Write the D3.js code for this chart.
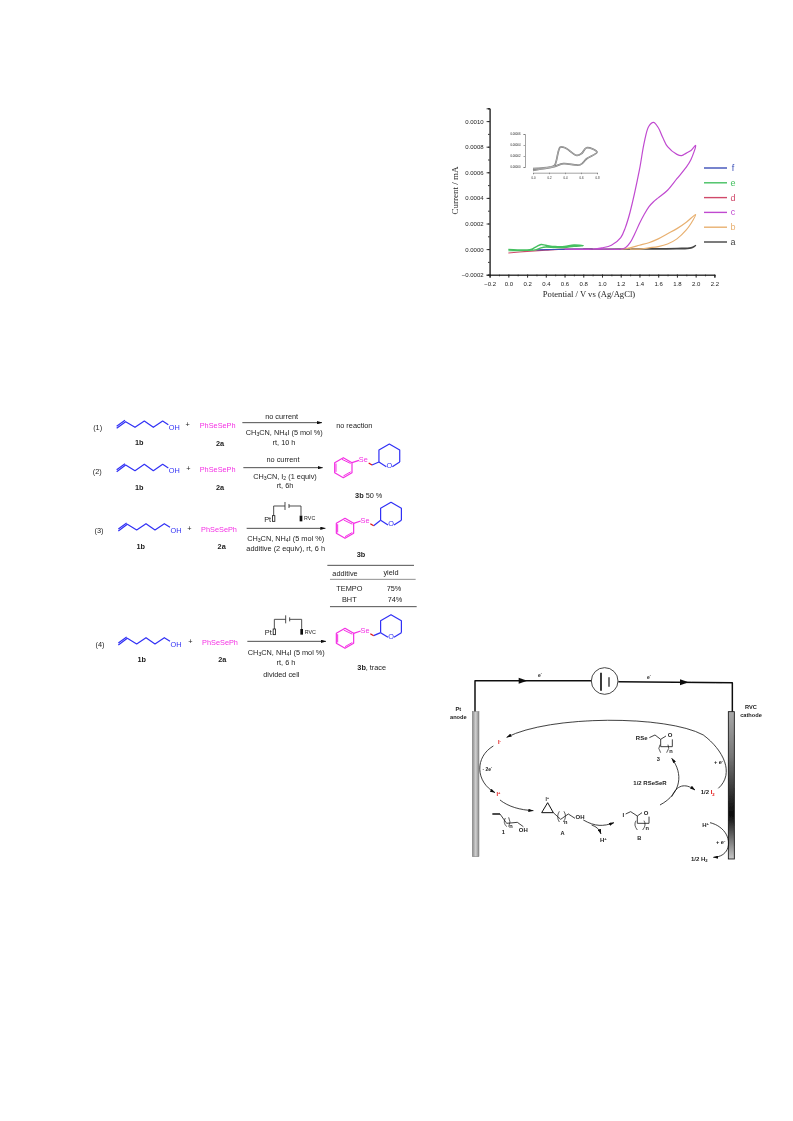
<!DOCTYPE html>
<html>
<head>
<meta charset="utf-8">
<script src="https://cdn.jsdelivr.net/npm/d3@7"></script>
<style>
  html, body { margin: 0; padding: 0; background: #fff; }
  svg { display: block; }
  text { font-family: "Liberation Sans", Arial, sans-serif; fill: #222; }
</style>
</head>
<body>
<svg id="page" width="793" height="1121"></svg>
<script>
// CV curves (potential in V, current in mA)
const aPotential = [0.8, 1.0, 1.4, 1.8, 1.95, 2.0, 1.95, 1.8, 1.4, 1.0, 0.8]
const aCurrent = [0, 0, 0.000002, 0.000006, 0.000012, 0.000028, 0.000008, 0.000002, 0, 0, 0]

const bPotential = [1.2, 1.3, 1.4, 1.5, 1.6, 1.7, 1.8, 1.9, 2.0, 1.95, 1.9, 1.8, 1.7, 1.6, 1.5, 1.4, 1.3]
const bCurrent = [0, 0.00001, 0.00003, 0.00005, 0.00008, 0.00012, 0.00016, 0.00021, 0.00027, 0.0002, 0.00015, 0.00008, 0.00004, 0.00002, 0.00001, 0, 0]

const cPotential = [0.6, 0.9, 1.0, 1.1, 1.2, 1.25, 1.3, 1.4, 1.45, 1.5, 1.55, 1.6, 1.65, 1.7, 1.8, 1.85, 1.9, 1.95, 2.0,
  1.95, 1.9, 1.8, 1.7, 1.6, 1.55, 1.5, 1.45, 1.4, 1.35, 1.3, 1.25, 1.2, 1.0, 0.8]
const cCurrent = [0, 0, 0.00001, 0.00003, 0.00009, 0.00017, 0.00029, 0.00062, 0.00083, 0.00096, 0.00099, 0.00095, 0.00087, 0.0008, 0.00074, 0.00073, 0.00075, 0.00077, 0.00081,
  0.0007, 0.00064, 0.00055, 0.00046, 0.0004, 0.00037, 0.00033, 0.00027, 0.0002, 0.00012, 0.00005, 0.00001, 0, 0, 0]

const dPotential = [0, 0.2, 0.4, 0.6, 0.9]
const dCurrent = [-0.00003, -0.000018, -0.000008, 0, 0]

const ePotential = [0, 0.2, 0.25, 0.3, 0.35, 0.4, 0.5, 0.6, 0.7, 0.8, 0.7, 0.6, 0.5, 0.4, 0.35, 0.3, 0.2, 0]
const eCurrent = [-0.000002, -0.000006, 0, 0.00002, 0.000036, 0.00003, 0.00002, 0.00002, 0.000032, 0.000026, 0.000022, 0.000012, 0.000012, 0.000016, 0.00001, -0.000004, -0.00001, -0.000012]

const fPotential = [0.3, 0.5, 0.7, 0.9]
const fCurrent = [-0.000006, -0.000003, 0, 0]

const legendNames = ['f', 'e', 'd', 'c', 'b', 'a']
const legendColors = ['#3c4fb8', '#45c060', '#d0486a', '#c04ad0', '#e8b070', '#444444']
const xTicks = [-0.2, 0, 0.2, 0.4, 0.6, 0.8, 1.0, 1.2, 1.4, 1.6, 1.8, 2.0, 2.2]
const yTicks = [-0.0002, 0, 0.0002, 0.0004, 0.0006, 0.0008, 0.001]

// inset curve
const insetPotential = [0, 0.21, 0.27, 0.34, 0.4, 0.55, 0.61, 0.67, 0.8, 0.67, 0.59, 0.38, 0.25, 0]
const insetCurrent = [-0.000003, 0, 0.000003, 0.000036, 0.000035, 0.000021, 0.000025, 0.000035, 0.000027, 0.000015, 0.000004, 0.000006, 0, -0.000006]
const insetXTicks = [0, 0.2, 0.4, 0.6, 0.8]
const insetYTicks = [0, 0.00002, 0.00004, 0.00006]

const additives = ['TEMPO', 'BHT']
const yields = ['75%', '74%']

const svg = d3.select('#page')

const defs = svg.append('defs')
defs.append('filter').attr('id', 'soft')
  .attr('x', '-5%').attr('y', '-5%').attr('width', '110%').attr('height', '110%')
  .append('feGaussianBlur').attr('stdDeviation', 0.4)
// the schemes sit in a group scaled to a third, so this is about 0.27 page px
defs.append('filter').attr('id', 'softer')
  .attr('x', '-5%').attr('y', '-5%').attr('width', '110%').attr('height', '110%')
  .append('feGaussianBlur').attr('stdDeviation', 0.8)

defs.append('marker').attr('id', 'tip')
  .attr('markerUnits', 'userSpaceOnUse')
  .attr('viewBox', '0 0 16 10').attr('refX', 15).attr('refY', 5)
  .attr('markerWidth', 16).attr('markerHeight', 10)
  .attr('orient', 'auto')
  .append('path').attr('d', 'M0,0L16,5L0,10Z').attr('fill', '#111')

// ---------- CV chart ----------
const x = d3.scaleLinear().domain([-0.2, 2.2]).range([489.6, 714.4])
const y = d3.scaleLinear().domain([-0.0002, 0.0011]).range([274.7, 108.3])

const chart = svg.append('g').attr('filter', 'url(#soft)')

const xAxis = chart.append('g').attr('transform', `translate(0,${y(-0.0002)})`)
  .call(d3.axisBottom(x).tickValues(xTicks).tickSize(3).tickFormat(d3.format('.1f')))
chart.append('g').attr('transform', `translate(0,${y(-0.0002)})`)
  .call(d3.axisBottom(x).ticks(24).tickSize(1.6).tickFormat(''))
const yAxis = chart.append('g').attr('transform', `translate(${x(-0.2)},0)`)
  .call(d3.axisLeft(y).tickValues(yTicks).tickSize(3).tickFormat(d3.format('.4f')))
chart.append('g').attr('transform', `translate(${x(-0.2)},0)`)
  .call(d3.axisLeft(y).ticks(13).tickSize(1.6).tickFormat(''))

chart.selectAll('.domain, .tick line').attr('stroke', '#222').attr('stroke-width', 0.9)
xAxis.selectAll('text').attr('font-size', 6).attr('dy', '0.9em')
yAxis.selectAll('text').attr('font-size', 6)

chart.append('text').attr('x', 589).attr('y', 296.5).attr('text-anchor', 'middle')
  .style('font-family', '"Liberation Serif", serif').attr('font-size', 8.6)
  .text('Potential / V vs (Ag/AgCl)')
chart.append('text').attr('transform', 'translate(458,190.5) rotate(-90)').attr('text-anchor', 'middle')
  .style('font-family', '"Liberation Serif", serif').attr('font-size', 9)
  .text('Current / mA')

const cvLine = d3.line().x(d => x(d[0])).y(d => y(d[1])).curve(d3.curveCatmullRom)
function drawCurve(xs, ys, color, w) {
  chart.append('path').attr('d', cvLine(d3.zip(xs, ys)))
    .attr('fill', 'none').attr('stroke', color).attr('stroke-width', w)
}
drawCurve(dPotential, dCurrent, legendColors[2], 1.1)
drawCurve(fPotential, fCurrent, legendColors[0], 1.1)
drawCurve(aPotential, aCurrent, legendColors[5], 1.3)
drawCurve(bPotential, bCurrent, legendColors[4], 1.2)
drawCurve(cPotential, cCurrent, legendColors[3], 1.2)
drawCurve(ePotential, eCurrent, legendColors[1], 1.4)

// legend
const legendY = d3.scalePoint().domain(legendNames).range([168, 242])
legendNames.forEach((name, i) => {
  chart.append('line').attr('x1', 704).attr('x2', 727)
    .attr('y1', legendY(name)).attr('y2', legendY(name))
    .attr('stroke', legendColors[i]).attr('stroke-width', 1.4)
  chart.append('text').attr('x', 733).attr('y', legendY(name) + 3)
    .attr('text-anchor', 'middle').attr('font-size', 9)
    .style('fill', legendColors[i]).text(name)
})

// inset
const ix = d3.scaleLinear().domain([0, 0.8]).range([533, 597])
const iy = d3.scaleLinear().domain([0, 0.00006]).range([167, 134])
const inset = chart.append('g')
inset.append('g').attr('transform', 'translate(0,172.7)')
  .call(d3.axisBottom(ix).tickValues(insetXTicks).tickSize(1.5).tickFormat(d3.format('.1f')))
  .selectAll('text').attr('font-size', 2.8)
inset.append('g').attr('transform', 'translate(525,0)')
  .call(d3.axisLeft(iy).tickValues(insetYTicks).tickSize(1.5).tickFormat(d3.format('.5f')))
  .selectAll('text').attr('font-size', 2.8)
inset.selectAll('.domain, .tick line').attr('stroke', '#666').attr('stroke-width', 0.6)
const insetLine = d3.line().x(d => ix(d[0])).y(d => iy(d[1])).curve(d3.curveCatmullRom)
inset.append('path').attr('d', insetLine(d3.zip(insetPotential, insetCurrent)))
  .attr('fill', 'none').attr('stroke', '#777').attr('stroke-width', 1.7)
inset.append('path').attr('d', insetLine(d3.zip(insetPotential, insetCurrent)))
  .attr('fill', 'none').attr('stroke', '#ddd').attr('stroke-width', 0.5)

// ---------- helpers for the drawn schemes ----------
function label(g, px, py, str, size, opts = {}) {
  const t = g.append('text').attr('x', px).attr('y', py)
    .attr('text-anchor', opts.anchor || 'middle')
    .attr('dominant-baseline', 'central')
    .attr('font-size', size)
    .attr('font-weight', opts.bold ? 'bold' : null)
  if (opts.fill) t.style('fill', opts.fill)
  let prev = 0
  str.split(/([_^].)/).filter(s => s !== '').forEach(part => {
    const sub = part[0] === '_', sup = part[0] === '^'
    const shift = sub ? size * 0.28 : sup ? -size * 0.35 : 0
    t.append('tspan').attr('dy', shift - prev)
      .attr('font-size', sub || sup ? size * 0.7 : size)
      .text(sub || sup ? part.slice(1) : part)
    prev = shift
  })
  return t
}

function poly(g, pts, color, w, closed) {
  const d = d3.line()(pts) + (closed ? 'Z' : '')
  return g.append('path').attr('d', d).attr('fill', 'none')
    .attr('stroke', color).attr('stroke-width', w).attr('stroke-linejoin', 'round')
}

function hexagon(cx, cy, r) {
  return d3.range(6).map(i => {
    const a = -Math.PI / 2 + i * Math.PI / 3
    return [cx + r * Math.cos(a), cy + r * Math.sin(a)]
  })
}

function bracket(g, d) {
  g.append('path').attr('d', d).attr('fill', 'none').attr('stroke', '#111').attr('stroke-width', 2)
}

// ---------- reaction scheme, drawn in zoom units (3 per page pixel) ----------
const BLUE = '#3030f5', PINK = '#f430e4', RED = '#e01010'
const scheme = svg.append('g').attr('transform', 'translate(85,405) scale(0.33333)').attr('filter', 'url(#softer)')
const FS = 22

function alkenol(dx, dy) {
  const g = scheme.append('g').attr('transform', `translate(${dx},${dy})`)
  poly(g, [[95, 70], [122, 50], [150, 67], [178, 48], [205, 67], [233, 48], [250, 59]], BLUE, 3.6)
  poly(g, [[95, 64], [120, 46]], BLUE, 3.6)
  label(g, 268, 66, 'OH', FS, { fill: BLUE })
}

function product(bx, by, ringDy) {
  const g = scheme.append('g')
  const r = 30
  const h = hexagon(bx, by, r)
  poly(g, h, PINK, 3.6, true)
  poly(g, [[h[0][0] - 4, h[0][1] + 5], [h[1][0] - 4, h[1][1] + 2.5]], PINK, 3)
  poly(g, [[h[2][0] - 4, h[2][1] - 2.5], [h[3][0], h[3][1] - 5]], PINK, 3)
  poly(g, [[h[4][0] + 4, h[4][1] - 2.5], [h[5][0] + 4, h[5][1] + 2.5]], PINK, 3)
  poly(g, [h[1], [bx + 47, by - 22]], PINK, 3.6)
  label(g, bx + 60, by - 26, 'Se', FS, { fill: PINK })
  const rx = bx + 138, ry = by + ringDy
  const ring = hexagon(rx, ry, 36)
  poly(g, [ring[4], ring[5], ring[0], ring[1], ring[2]], BLUE, 3.6)
  poly(g, [ring[4], [bx + 86, by - 8]], BLUE, 3.6)
  poly(g, [[bx + 86, by - 8], [bx + 76, by - 14]], RED, 3.6)
  poly(g, [ring[2], [ring[3][0] + 9, ring[3][1] - 4]], BLUE, 3.6)
  poly(g, [ring[4], [ring[3][0] - 9, ring[3][1] - 4]], BLUE, 3.6)
  label(g, ring[3][0], ring[3][1] - 9, 'O', FS, { fill: BLUE })
}

function circuit(x0, yTop, yBot) {
  const g = scheme.append('g')
  poly(g, [[x0, yBot], [x0, yTop], [x0 + 34, yTop]], '#333', 2.6)
  poly(g, [[x0 + 34, yTop - 12], [x0 + 34, yTop + 12]], '#333', 2.6)
  poly(g, [[x0 + 46, yTop - 6], [x0 + 46, yTop + 6]], '#333', 2.6)
  poly(g, [[x0 + 46, yTop], [x0 + 82, yTop], [x0 + 82, yBot]], '#333', 2.6)
  g.append('rect').attr('x', x0 - 3.5).attr('y', yBot).attr('width', 7).attr('height', 17)
    .attr('fill', '#fff').attr('stroke', '#111').attr('stroke-width', 2.4)
  g.append('rect').attr('x', x0 + 78).attr('y', yBot).attr('width', 8).attr('height', 17).attr('fill', '#111')
  label(g, x0 - 18, yBot + 9, 'Pt', FS)
  label(g, x0 + 108, yBot + 8, 'RVC', 16)
}

function reactionArrow(x1, x2, ay) {
  scheme.append('line').attr('x1', x1).attr('x2', x2).attr('y1', ay).attr('y2', ay)
    .attr('stroke', '#333').attr('stroke-width', 2.6).attr('marker-end', 'url(#tip)')
}

// row 1
label(scheme, 38, 65, '(1)', FS)
alkenol(0, 0)
label(scheme, 163, 112, '1b', FS, { bold: true })
label(scheme, 308, 58, '+', FS)
label(scheme, 398, 61, 'PhSeSePh', FS, { fill: PINK })
label(scheme, 405, 113, '2a', FS, { bold: true })
reactionArrow(472, 711, 53)
label(scheme, 590, 33, 'no current', FS)
label(scheme, 598, 82, 'CH_3CN, NH_4I (5 mol %)', FS)
label(scheme, 597, 110, 'rt, 10 h', FS)
label(scheme, 808, 59, 'no reaction', FS)

// row 2
label(scheme, 37, 197, '(2)', FS)
alkenol(0, 130)
label(scheme, 163, 245, '1b', FS, { bold: true })
label(scheme, 310, 188, '+', FS)
label(scheme, 398, 193, 'PhSeSePh', FS, { fill: PINK })
label(scheme, 405, 245, '2a', FS, { bold: true })
reactionArrow(475, 713, 188)
label(scheme, 594, 163, 'no current', FS)
label(scheme, 600, 212, 'CH_3CN, I_2 (1 equiv)', FS)
label(scheme, 600, 240, 'rt, 6h', FS)
product(775, 188, -35)
label(scheme, 836, 270, '3b', FS, { bold: true, anchor: 'end' })
label(scheme, 842, 270, '50 %', FS, { anchor: 'start' })

// row 3
label(scheme, 42, 376, '(3)', FS)
alkenol(5, 308)
label(scheme, 167, 422, '1b', FS, { bold: true })
label(scheme, 313, 368, '+', FS)
label(scheme, 402, 371, 'PhSeSePh', FS, { fill: PINK })
label(scheme, 410, 422, '2a', FS, { bold: true })
circuit(566, 303, 332)
reactionArrow(485, 721, 370)
label(scheme, 602, 400, 'CH_3CN, NH_4I (5 mol %)', FS)
label(scheme, 602, 428, 'additive (2 equiv), rt, 6 h', FS)
product(780, 370, -42)
label(scheme, 828, 447, '3b', FS, { bold: true })

// additive table
const tableY = 435
function rule(x1, x2, ry, w) {
  scheme.append('line').attr('x1', x1).attr('x2', x2).attr('y1', ry + tableY).attr('y2', ry + tableY)
    .attr('stroke', '#444').attr('stroke-width', w)
}
rule(727, 987, 46, 2.8)
rule(735, 992, 88, 1.8)
rule(735, 995, 170, 2.8)
label(scheme, 780, 70 + tableY, 'additive', FS)
label(scheme, 918, 67 + tableY, 'yield', FS)
additives.forEach((name, i) => {
  label(scheme, 793, 113 + i * 34 + tableY, name, FS)
  label(scheme, 927 + i * 3, 113 + i * 34 + tableY, yields[i], FS)
})

// row 4
label(scheme, 45, 717, '(4)', FS)
alkenol(5, 650)
label(scheme, 170, 762, '1b', FS, { bold: true })
label(scheme, 316, 707, '+', FS)
label(scheme, 405, 710, 'PhSeSePh', FS, { fill: PINK })
label(scheme, 412, 762, '2a', FS, { bold: true })
circuit(568, 643, 672)
reactionArrow(487, 723, 709)
label(scheme, 604, 740, 'CH_3CN, NH_4I (5 mol %)', FS)
label(scheme, 603, 770, 'rt, 6 h', FS)
label(scheme, 589, 808, 'divided cell', FS)
product(780, 700, -35)
label(scheme, 817, 787, '3b', FS, { bold: true, anchor: 'start' })
label(scheme, 842, 787, ', trace', FS, { anchor: 'start' })

// ---------- mechanism, same zoom units ----------
const mech = svg.append('g').attr('transform', 'translate(440,660) scale(0.33333)').attr('filter', 'url(#softer)')
const MS = 17

const leftGrad = defs.append('linearGradient').attr('id', 'anodeFill').attr('x1', 0).attr('x2', 1).attr('y1', 0).attr('y2', 0)
leftGrad.append('stop').attr('offset', 0).attr('stop-color', '#8a8a8a')
leftGrad.append('stop').attr('offset', 0.5).attr('stop-color', '#d0d0d0')
leftGrad.append('stop').attr('offset', 1).attr('stop-color', '#8a8a8a')
const rightGrad = defs.append('linearGradient').attr('id', 'cathodeFill').attr('x1', 0).attr('x2', 0).attr('y1', 0).attr('y2', 1)
rightGrad.append('stop').attr('offset', 0).attr('stop-color', '#a8a8a8')
rightGrad.append('stop').attr('offset', 0.3).attr('stop-color', '#777')
rightGrad.append('stop').attr('offset', 0.7).attr('stop-color', '#0a0a0a')
rightGrad.append('stop').attr('offset', 1).attr('stop-color', '#c8c8c8')

poly(mech, [[105, 155], [105, 62], [455, 62]], '#111', 4.5)
poly(mech, [[535, 65], [877, 68], [877, 155]], '#111', 4.5)
mech.append('circle').attr('cx', 494).attr('cy', 63).attr('r', 40)
  .attr('fill', '#fff').attr('stroke', '#222').attr('stroke-width', 2.5)
poly(mech, [[483, 38], [483, 92]], '#111', 5)
poly(mech, [[507, 52], [507, 80]], '#111', 3.5)
mech.append('path').attr('d', 'M236,53L262,62L236,71Z').attr('fill', '#111')
mech.append('path').attr('d', 'M720,58L746,67L720,76Z').attr('fill', '#111')
label(mech, 300, 45, 'e^-', 15, { bold: true })
label(mech, 627, 50, 'e^-', 15, { bold: true })

mech.append('rect').attr('x', 97).attr('y', 155).attr('width', 20).attr('height', 435)
  .attr('fill', 'url(#anodeFill)').attr('stroke', '#777').attr('stroke-width', 1.5)
mech.append('rect').attr('x', 865).attr('y', 155).attr('width', 18).attr('height', 442)
  .attr('fill', 'url(#cathodeFill)').attr('stroke', '#111').attr('stroke-width', 2.5)
label(mech, 55, 148, 'Pt', MS, { bold: true })
label(mech, 55, 172, 'anode', MS, { bold: true })
label(mech, 933, 141, 'RVC', MS, { bold: true })
label(mech, 933, 165, 'cathode', MS, { bold: true })

function arc(d) {
  mech.append('path').attr('d', d).attr('fill', 'none')
    .attr('stroke', '#111').attr('stroke-width', 2.4).attr('marker-end', 'url(#tip)')
}
arc('M835,385C885,340 850,270 790,225C680,165 330,165 200,232')
arc('M160,258C105,290 105,365 165,398')
arc('M180,420C205,440 240,450 280,452')
arc('M430,480C465,500 490,500 522,488')
arc('M455,495C470,500 478,508 483,522')
arc('M660,435C725,400 730,340 695,295')
arc('M695,410C710,375 735,368 765,390')
arc('M810,488C880,505 885,590 820,592')

label(mech, 178, 247, 'I^-', MS, { fill: RED, bold: true })
label(mech, 175, 403, 'I^+', MS, { fill: RED, bold: true })
label(mech, 142, 327, '- 2e^-', 15, { bold: true })

// 1
poly(mech, [[157, 462], [180, 462]], '#111', 4.5)
poly(mech, [[180, 462], [200, 490], [232, 487], [250, 500]], '#111', 2.4)
bracket(mech, 'M196,474Q188,488 200,500M206,472Q214,486 206,500')
label(mech, 213, 498, 'n', MS, { bold: true })
label(mech, 250, 511, 'OH', 18, { bold: true })
label(mech, 190, 517, '1', MS, { bold: true })

// A
poly(mech, [[305, 458], [340, 458], [323, 428]], '#111', 3, true)
label(mech, 322, 418, 'I^+', 15, { bold: true })
poly(mech, [[340, 458], [362, 478], [385, 462], [405, 475]], '#111', 2.4)
bracket(mech, 'M358,454Q348,470 358,486M372,454Q382,470 370,486')
label(mech, 377, 487, 'n', MS, { bold: true })
label(mech, 420, 472, 'OH', 18, { bold: true })
label(mech, 368, 518, 'A', MS, { bold: true })
label(mech, 490, 540, 'H^+', 18, { bold: true })

// B
label(mech, 550, 466, 'I', 18, { bold: true })
poly(mech, [[557, 462], [572, 455], [592, 468], [606, 458]], '#111', 2.4)
poly(mech, [[592, 468], [592, 490], [627, 490], [627, 470]], '#111', 2.4)
label(mech, 618, 460, 'O', 18, { bold: true })
bracket(mech, 'M588,482Q580,495 592,510M612,482Q620,495 608,510')
label(mech, 622, 505, 'n', MS, { bold: true })
label(mech, 598, 535, 'B', MS, { bold: true })

// 3
label(mech, 605, 235, 'RSe', 18, { bold: true })
poly(mech, [[628, 233], [645, 225], [662, 238], [678, 228]], '#111', 2.4)
poly(mech, [[662, 238], [662, 260], [697, 260], [697, 238]], '#111', 2.4)
label(mech, 690, 226, 'O', 18, { bold: true })
bracket(mech, 'M660,254Q652,265 662,278M684,254Q690,265 680,278')
label(mech, 693, 274, 'n', MS, { bold: true })
label(mech, 655, 298, '3', MS, { bold: true })

label(mech, 630, 368, '1/2 RSeSeR', 18, { bold: true })
label(mech, 807, 397, '1/2', 18, { bold: true, anchor: 'end' })
label(mech, 812, 397, 'I_2', 18, { bold: true, anchor: 'start', fill: RED })
label(mech, 836, 307, '+ e^-', 17, { bold: true })
label(mech, 797, 495, 'H^+', 18, { bold: true })
label(mech, 842, 545, '+ e^-', 17, { bold: true })
label(mech, 778, 596, '1/2 H_2', 18, { bold: true })
</script>
</body>
</html>
